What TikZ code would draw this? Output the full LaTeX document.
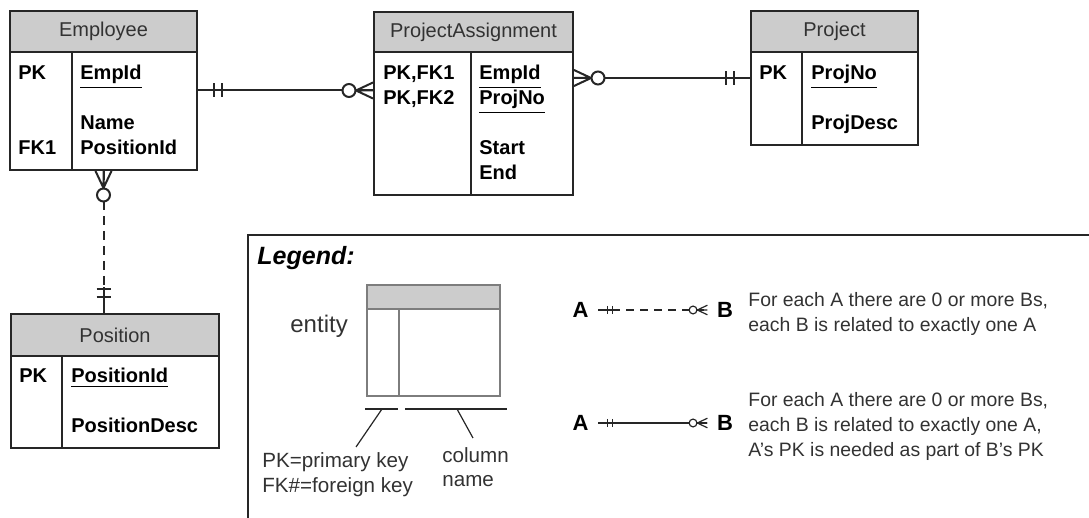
\documentclass[tikz,border=0pt]{standalone}
\usepackage{fontspec}
\setmainfont{Liberation Sans}
\usepackage{tikz}
\usetikzlibrary{positioning}

\definecolor{hdgray}{RGB}{204,204,204}
\definecolor{linegray}{RGB}{38,38,38}
\definecolor{txtgray}{RGB}{50,50,50}
\definecolor{boxgray}{RGB}{125,125,125}

\tikzset{
	entity/.style={draw=linegray, line width=1pt, inner sep=0pt},
	header/.style={entity, fill=hdgray, text=txtgray, font=\fontsize{10}{12}\selectfont},
	rule/.style={draw=linegray, line width=1pt},
	field/.style={anchor=base west, inner sep=0pt, text=black, font=\fontsize{10}{12}\selectfont\bfseries},
	conn/.style={draw=linegray, line width=1pt},
	piclook/.style={color=linegray, line width=1pt},
	legpic/.style={color=linegray, line width=0.6pt, scale=0.6},
	legline/.style={draw=linegray, line width=0.6pt},
	ab/.style={inner xsep=4.6pt, inner ysep=0pt, font=\fontsize{11}{13}\selectfont\bfseries},
	legtext/.style={anchor=base west, inner sep=0pt, text=txtgray, font=\fontsize{9.7}{12}\selectfont},
	leglbl/.style={anchor=base west, inner sep=0pt, text=txtgray, font=\fontsize{10.3}{12}\selectfont},
	onlyone/.pic={\draw[solid] (0,0) -- (26,0) (16,-7) -- (16,7) (24,-7) -- (24,7);},
	zeromany/.pic={\draw[solid] (0,0) -- (17,0) (0,-8) -- (17,0) (0,8) -- (17,0);
		\draw[solid, fill=white] (24,0) circle (3.25pt);}
}

\begin{document}
\begin{tikzpicture}[x=0.5pt, y=-0.5pt]
	\useasboundingbox (0,0) rectangle (1089,518);

	% Employee
	\node[entity, minimum width=93.5pt, minimum height=79.5pt] (emp) at (103.5,90.5) {};
	\node[header, minimum width=93.5pt, minimum height=20.5pt] (emphd) at (103.5,31.5) {Employee};
	\draw[rule] (72,52) -- (72,170);
	\node[field] (empk1) at (18,80) {PK};
	\node[field] (empk2) at (18,155) {FK1};
	\node[field] (empc1) at (80,80) {\underline{EmpId}};
	\node[field] (empc2) at (80,130) {Name};
	\node[field] (empc3) at (80,155) {PositionId};

	% ProjectAssignment
	\node[entity, minimum width=99.5pt, minimum height=91.5pt] (pa) at (473.5,103.5) {};
	\node[header, minimum width=99.5pt, minimum height=20pt] (pahd) at (473.5,32) {ProjectAssignment};
	\draw[rule] (471,52) -- (471,195);
	\node[field] (pak1) at (383,80) {PK,FK1};
	\node[field] (pak2) at (383,105) {PK,FK2};
	\node[field] (pac1) at (479,80) {\underline{EmpId}};
	\node[field] (pac2) at (479,105) {\underline{ProjNo}};
	\node[field] (pac3) at (479,155) {Start};
	\node[field] (pac4) at (479,180) {End};

	% Project
	\node[entity, minimum width=83.5pt, minimum height=67pt] (proj) at (834.5,78) {};
	\node[header, minimum width=83.5pt, minimum height=20.5pt] (projhd) at (834.5,31.5) {Project};
	\draw[rule] (802,52) -- (802,145);
	\node[field] (projk1) at (759,80) {PK};
	\node[field] (projc1) at (811,80) {\underline{ProjNo}};
	\node[field] (projc2) at (811,130) {ProjDesc};

	% Position
	\node[entity, minimum width=104pt, minimum height=67pt] (pos) at (115,381) {};
	\node[header, minimum width=104pt, minimum height=21pt] (poshd) at (115,335) {Position};
	\draw[rule] (62,356) -- (62,448);
	\node[field] (posk1) at (19,383) {PK};
	\node[field] (posc1) at (71,383) {\underline{PositionId}};
	\node[field] (posc2) at (71,433) {PositionDesc};

	% relationships
	\draw[conn] (emp.east) -- (emp.east -| pa.west);
	\path (emp.east) pic[piclook] {onlyone};
	\path (emp.east -| pa.west) pic[piclook, rotate=180] {zeromany};

	\draw[conn] (proj.west -| pa.east) -- (proj.west);
	\path (proj.west -| pa.east) pic[piclook] {zeromany};
	\path (proj.west) pic[piclook, rotate=180] {onlyone};

	\draw[conn, dash pattern=on 4.5pt off 3pt] (emp.south) -- (emp.south |- pos.north);
	\path (emp.south) pic[piclook, rotate=-90] {zeromany};
	\path (emp.south |- pos.north) pic[piclook, rotate=90] {onlyone};

	% legend
	\draw[conn] (1095,235) -- (248,235) -- (248,525);
	\node[anchor=base west, inner sep=0pt, font=\fontsize{12.5}{14}\selectfont\bfseries\itshape] (legtitle) at (257,265) {Legend:};

	\node[entity, draw=boxgray, line width=0.8pt, minimum width=66.5pt, minimum height=55.5pt] (legent) at (433.5,340.5) {};
	\node[entity, draw=boxgray, line width=0.8pt, fill=hdgray, minimum width=66.5pt, minimum height=12pt] (legenthd) at (433.5,297) {};
	\draw[draw=boxgray, line width=0.8pt] (399,309) -- (399,396);
	\node[leglbl, font=\fontsize{12}{14}\selectfont] (entlbl) at (290,333) {entity};

	\draw[legline] (365,409) -- (398,409) (405,409) -- (507,409);
	\coordinate (pkbar) at (382,409);
	\coordinate (colbar) at (457,409);
	\node[leglbl] (pklbl1) at (262,468) {PK=primary key};
	\node[leglbl] (pklbl2) at (262,493) {FK\#=foreign key};
	\node[leglbl] (collbl1) at (442,463) {column};
	\node[leglbl] (collbl2) at (442,487) {name};
	\draw[legline] (pkbar) -- (356,447);
	\draw[legline] (colbar) -- (473,438);

	\node[ab] (legA1) at (580.5,310) {A};
	\node[ab] (legB1) at (725,310) {B};
	\draw[legline, dash pattern=on 4pt off 3pt] (legA1.east) -- (legB1.west);
	\path (legA1.east) pic[legpic] {onlyone};
	\path (legB1.west) pic[legpic, rotate=180] {zeromany};
	\node[legtext] (desc11) at (748,307) {For each A there are 0 or more Bs,};
	\node[legtext] (desc12) at (748,332) {each B is related to exactly one A};

	\node[ab] (legA2) at (580.5,423) {A};
	\node[ab] (legB2) at (725,423) {B};
	\draw[legline] (legA2.east) -- (legB2.west);
	\path (legA2.east) pic[legpic] {onlyone};
	\path (legB2.west) pic[legpic, rotate=180] {zeromany};
	\node[legtext] (desc21) at (748,407) {For each A there are 0 or more Bs,};
	\node[legtext] (desc22) at (748,432) {each B is related to exactly one A,};
	\node[legtext] (desc23) at (748,457) {A’s PK is needed as part of B’s PK};
\end{tikzpicture}
\end{document}
